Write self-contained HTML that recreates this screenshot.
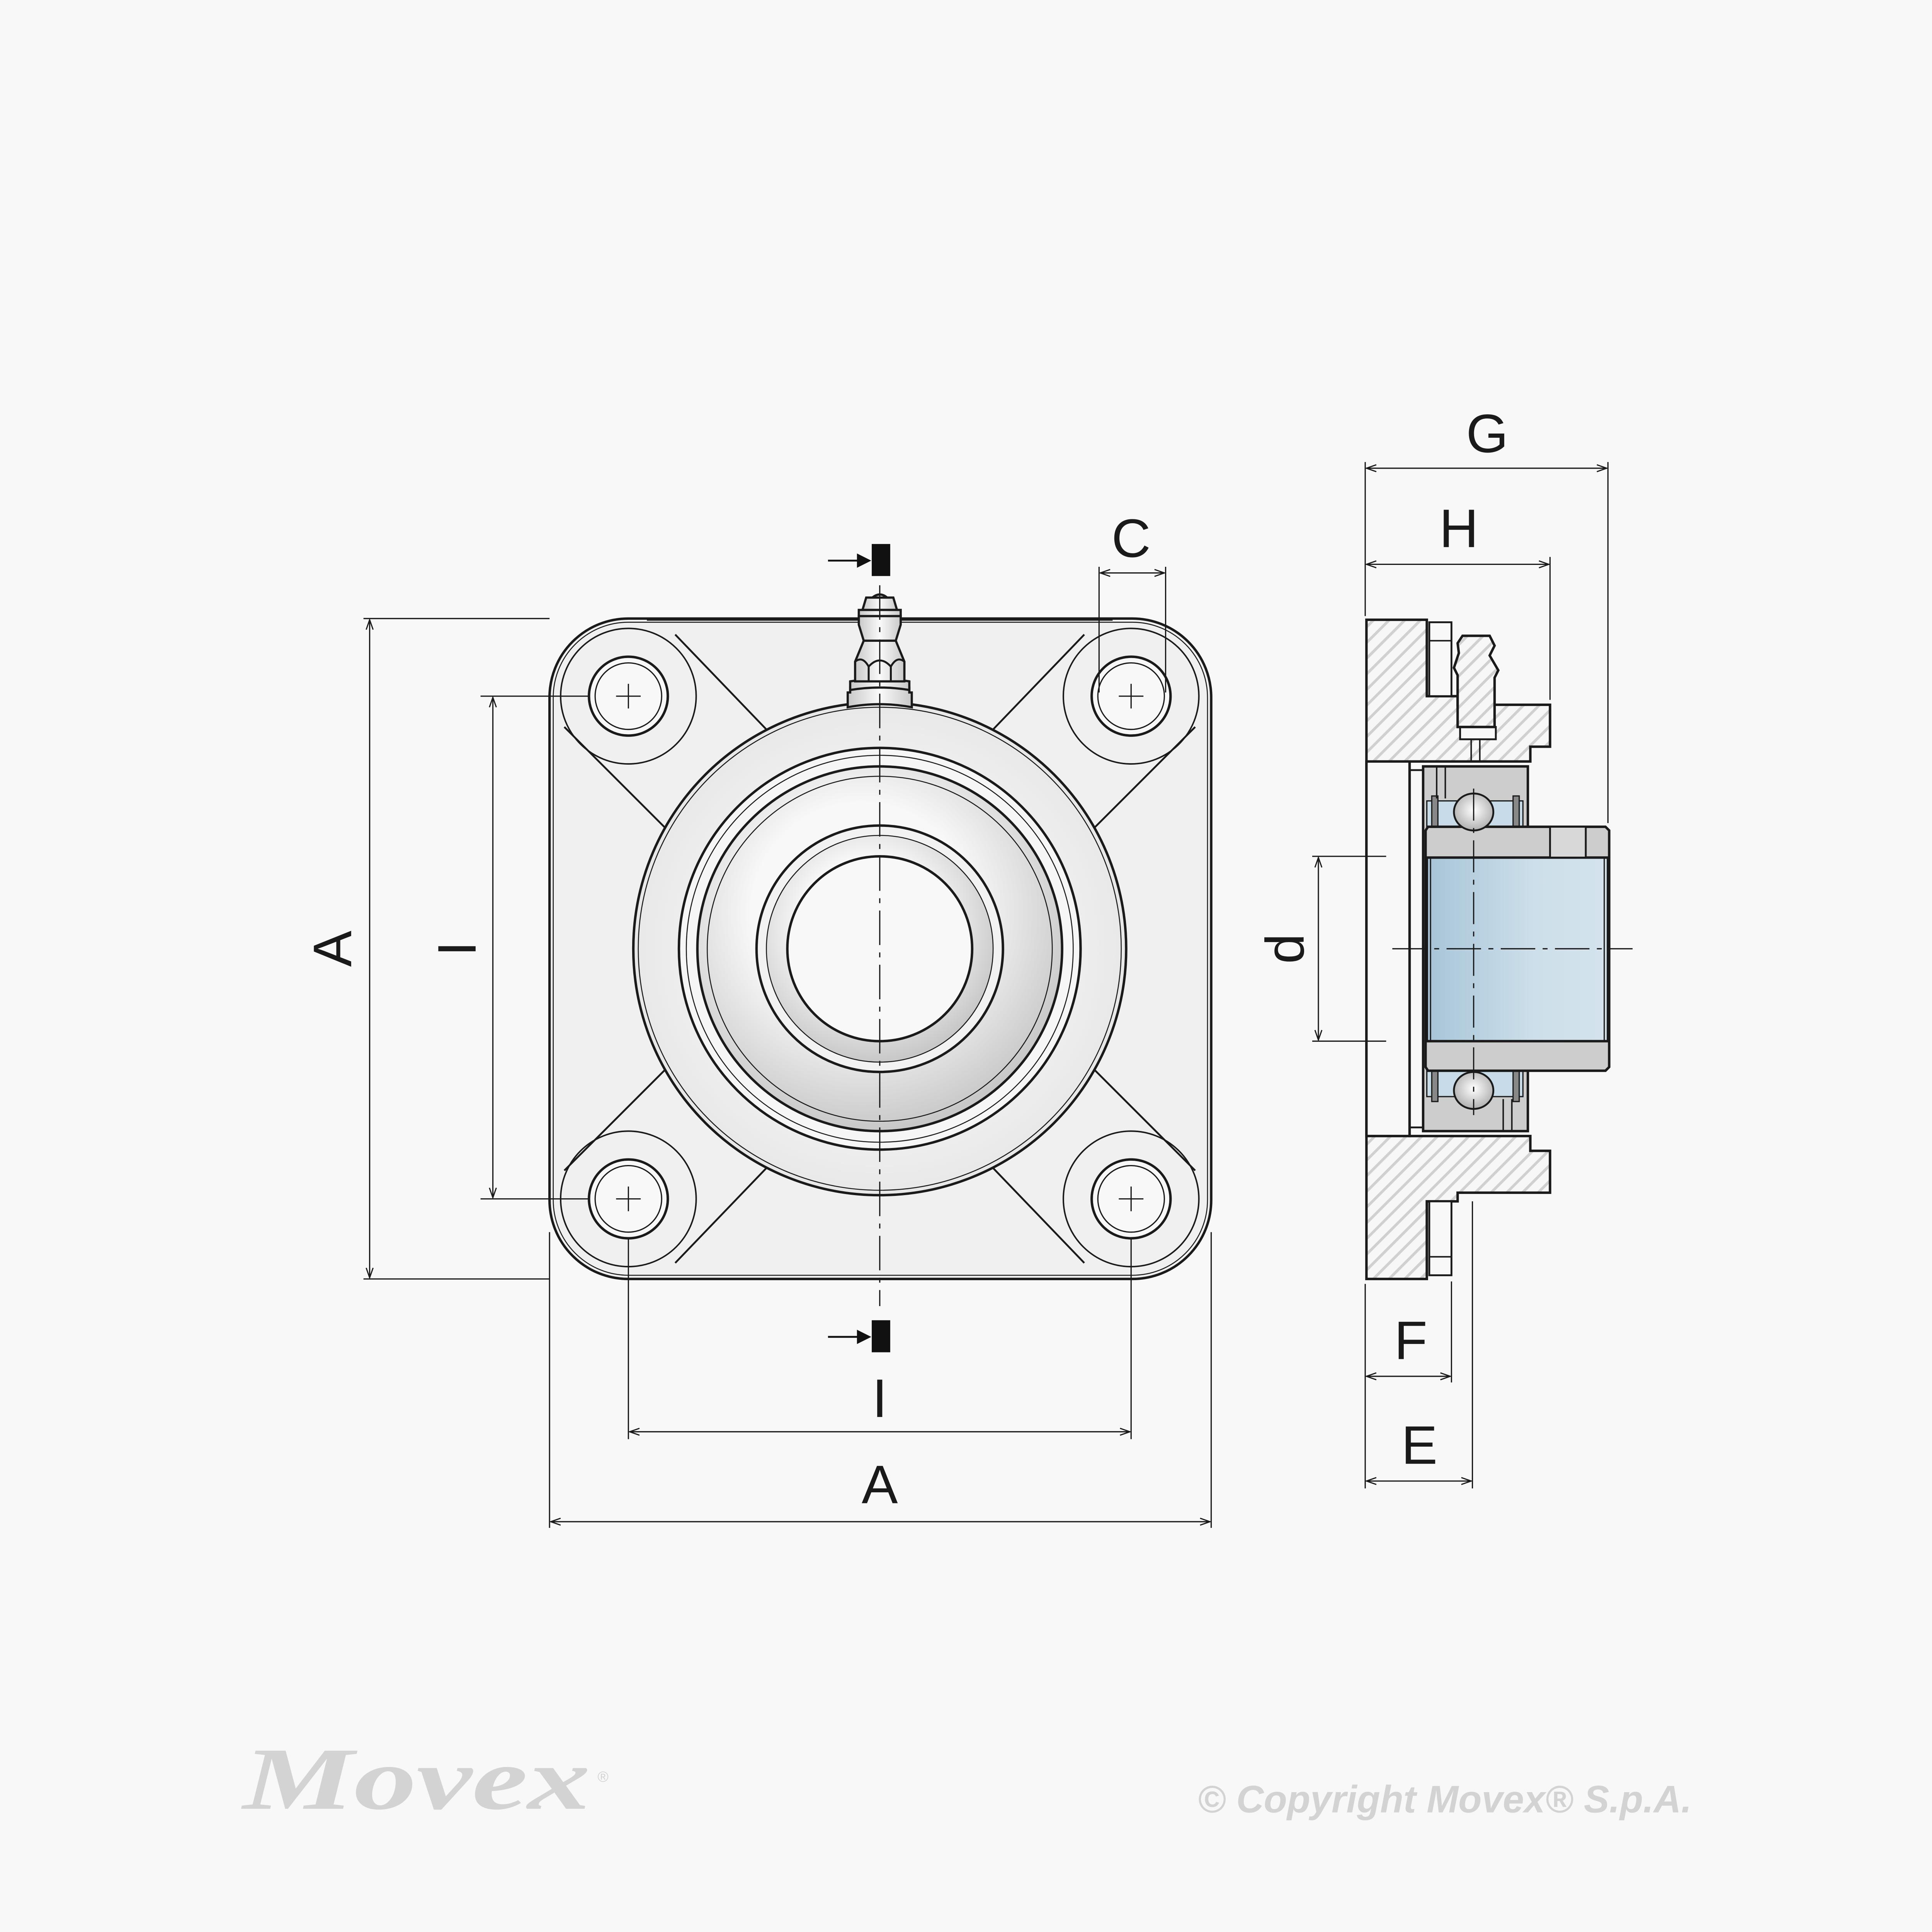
<!DOCTYPE html>
<html><head><meta charset="utf-8"><style>html,body{margin:0;padding:0;background:#f8f8f8;width:100%;height:100%;overflow:hidden}svg{display:block;width:100vw;height:100vh}</style></head><body>
<svg viewBox="0 0 1568 1568" preserveAspectRatio="xMidYMid meet" xmlns="http://www.w3.org/2000/svg" font-family="Liberation Sans, sans-serif">
<defs>
<marker id="ar" viewBox="0 0 10 10" refX="10" refY="5" markerWidth="14" markerHeight="8" markerUnits="userSpaceOnUse" orient="auto-start-reverse"><path d="M0,1.5 L10,5 L0,8.5" fill="none" stroke="#1a1a1a" stroke-width="1.2"/></marker>
<pattern id="hat" width="9" height="9" patternUnits="userSpaceOnUse" patternTransform="rotate(-45)"><rect width="9" height="9" fill="#f7f7f7"/><rect width="9" height="2.2" fill="#d0d0d0"/></pattern>
<radialGradient id="boss" cx="0.5" cy="0.5" r="0.5"><stop offset="0.6" stop-color="#f4f4f4"/><stop offset="1" stop-color="#e8e8e8"/></radialGradient>
<radialGradient id="ring" cx="0.45" cy="0.4" r="0.6"><stop offset="0.5" stop-color="#f8f8f8"/><stop offset="1" stop-color="#c8c8c8"/></radialGradient>
<linearGradient id="blue" x1="0" x2="1"><stop offset="0" stop-color="#a7c5d8"/><stop offset="0.6" stop-color="#cddfea"/><stop offset="1" stop-color="#d4e3ec"/></linearGradient>
<radialGradient id="ball" cx="0.5" cy="0.45" r="0.55"><stop offset="0" stop-color="#fff"/><stop offset="1" stop-color="#b0b0b0"/></radialGradient>
<linearGradient id="nip" x1="0" x2="1"><stop offset="0" stop-color="#c8c8c8"/><stop offset="0.5" stop-color="#fafafa"/><stop offset="1" stop-color="#c8c8c8"/></linearGradient>
</defs>
<rect width="1568" height="1568" fill="#f8f8f8"/>

<g stroke="#1a1a1a" fill="none">
<rect x="446" y="502" width="537" height="536" rx="64" fill="#f0f0f0" stroke-width="2"/>
<rect x="449" y="505" width="531" height="530" rx="61" stroke-width="0.8"/>
<g stroke-width="1.5">
<path d="M548,515 L622,592 M458,590 L540,672"/>
<path d="M880,515 L806,592 M970,590 L888,672"/>
<path d="M548,1025 L622,948 M458,950 L540,868"/>
<path d="M880,1025 L806,948 M970,950 L888,868"/>
<path d="M525,503 L903,503"/>
</g>
<g stroke-width="1.2">
<circle cx="510" cy="565" r="55"/><circle cx="918" cy="565" r="55"/>
<circle cx="510" cy="973" r="55"/><circle cx="918" cy="973" r="55"/>
</g>
<g stroke-width="2" fill="#f8f8f8">
<circle cx="510" cy="565" r="32"/><circle cx="918" cy="565" r="32"/>
<circle cx="510" cy="973" r="32"/><circle cx="918" cy="973" r="32"/>
</g>
<g stroke-width="1">
<circle cx="510" cy="565" r="27"/><circle cx="918" cy="565" r="27"/>
<circle cx="510" cy="973" r="27"/><circle cx="918" cy="973" r="27"/>
</g>
<circle cx="714" cy="770" r="200" fill="url(#boss)" stroke-width="2"/>
<circle cx="714" cy="770" r="196" stroke-width="0.8"/>
<circle cx="714" cy="770" r="163" fill="#f6f6f6" stroke-width="2"/>
<circle cx="714" cy="770" r="157" stroke-width="0.8"/>
<circle cx="714" cy="770" r="148" fill="url(#ring)" stroke-width="2"/>
<circle cx="714" cy="770" r="140" stroke-width="0.8"/>
<circle cx="714" cy="770" r="100" fill="#f2f2f2" stroke-width="2"/>
<circle cx="714" cy="770" r="92" fill="url(#ring)" stroke-width="0.8"/>
<circle cx="714" cy="770" r="75" fill="#f8f8f8" stroke-width="2"/>
<!-- grease nipple -->
<g fill="url(#nip)" stroke-width="1.8">
<path d="M688,574 L688,562 L690,562 L690,558 Q714,554 738,558 L738,562 L740,562 L740,574 Q714,569 688,574Z"/>
<path d="M690,560 Q714,556 738,560 L738,553 Q714,549 690,553Z"/>
<path d="M694,553 L694,537 L701,520 L727,520 L734,537 L734,553Z"/>
<path d="M701,520 L697,507 L697,500 L731,500 L731,507 L727,520Z"/>
<path d="M700,495 L703,485 L725,485 L728,495Z"/>
<path d="M697,500 L697,495 L731,495 L731,500Z"/>
<path d="M708,485 Q714,480 720,485Z"/>
</g>
<g stroke-width="1.6">
<path d="M694,537 Q700,532 705,541 Q714,531 723,541 Q728,532 734,537" fill="none"/>
<line x1="705" y1="541" x2="705" y2="553"/><line x1="723" y1="541" x2="723" y2="553"/>
</g>
<g stroke-width="1" stroke-dasharray="28,6,4,6">
<line x1="714" y1="475" x2="714" y2="1060"/>
</g>
<g stroke-width="1">
<line x1="500" y1="565" x2="520" y2="565"/><line x1="510" y1="555" x2="510" y2="575"/>
<line x1="908" y1="565" x2="928" y2="565"/><line x1="918" y1="555" x2="918" y2="575"/>
<line x1="500" y1="973" x2="520" y2="973"/><line x1="510" y1="963" x2="510" y2="983"/>
<line x1="908" y1="973" x2="928" y2="973"/><line x1="918" y1="963" x2="918" y2="983"/>
</g>
</g>
<g fill="#111" stroke="#111">
<line x1="672" y1="455" x2="704" y2="455" stroke-width="1.5"/><path d="M696,450 L706,455 L696,460Z"/>
<rect x="708" y="442" width="14" height="25"/>
<line x1="672" y1="1085" x2="704" y2="1085" stroke-width="1.5"/><path d="M696,1080 L706,1085 L696,1090Z"/>
<rect x="708" y="1072" width="14" height="25"/>
</g>

<g stroke="#1a1a1a" stroke-width="2">
<path d="M1109,503 L1158,503 L1158,565 L1183,565 L1183,572 L1258,572 L1258,606 L1242,606 L1242,618 L1144,618 L1144,922 L1242,922 L1242,934 L1258,934 L1258,968 L1183,968 L1183,975 L1158,975 L1158,1038 L1109,1038Z" fill="url(#hat)"/>
<rect x="1109" y="618" width="35" height="304" fill="#f8f8f8"/>
<path d="M1144,625 L1155,625 M1144,915 L1155,915" fill="none" stroke-width="1.5"/>
<path d="M1160,505 L1178,505 L1178,565 L1160,565Z M1160,975 L1178,975 L1178,1035 L1160,1035Z" fill="#f8f8f8" stroke-width="1.5"/>
<line x1="1160" y1="520" x2="1178" y2="520" stroke-width="1.2"/><line x1="1160" y1="1020" x2="1178" y2="1020" stroke-width="1.2"/>
<path d="M1185,600 L1185,590 L1214,590 L1214,600Z" fill="#f8f8f8" stroke-width="1.5"/>
<path d="M1183,590 L1183,548 L1180,542 L1184,530 L1183,522 L1187,516 L1209,516 L1213,524 L1209,532 L1216,544 L1213,550 L1213,590Z" fill="url(#hat)"/>
<line x1="1194" y1="600" x2="1194" y2="617" stroke-width="1.2"/><line x1="1201" y1="600" x2="1201" y2="617" stroke-width="1.2"/>
<path d="M1155,622 L1240,622 L1240,918 L1155,918Z" fill="#cdcdcd"/>
<rect x="1158" y="650" width="78" height="22" fill="#c7dbe8" stroke-width="1"/>
<rect x="1158" y="868" width="78" height="22" fill="#c7dbe8" stroke-width="1"/>
<rect x="1162" y="646" width="5" height="26" fill="#888" stroke-width="1"/>
<rect x="1228" y="646" width="5" height="26" fill="#888" stroke-width="1"/>
<rect x="1162" y="868" width="5" height="26" fill="#888" stroke-width="1"/>
<rect x="1228" y="868" width="5" height="26" fill="#888" stroke-width="1"/>
<line x1="1166" y1="622" x2="1166" y2="648" stroke-width="1.2"/><line x1="1173" y1="622" x2="1173" y2="648" stroke-width="1.2"/>
<line x1="1220" y1="892" x2="1220" y2="918" stroke-width="1.2"/><line x1="1227" y1="892" x2="1227" y2="918" stroke-width="1.2"/>
<path d="M1159,671 L1303,671 L1306,674 L1306,866 L1303,869 L1159,869 L1157,866 L1157,674Z" fill="#cdcdcd"/>
<rect x="1158" y="696" width="147" height="149" fill="url(#blue)"/>
<line x1="1161" y1="696" x2="1161" y2="845" stroke-width="1"/>
<line x1="1302" y1="696" x2="1302" y2="845" stroke-width="1"/>
<rect x="1258" y="671" width="29" height="25" fill="#d8d8d8" stroke-width="1.5"/>
<ellipse cx="1196" cy="659" rx="16" ry="15" fill="url(#ball)" stroke-width="1.5"/>
<ellipse cx="1196" cy="885" rx="16" ry="15" fill="url(#ball)" stroke-width="1.5"/>
</g>
<g stroke="#1a1a1a" stroke-width="1">
<line x1="1196" y1="640" x2="1196" y2="905" stroke-dasharray="26,6,4,6"/>
<line x1="1130" y1="770" x2="1325" y2="770" stroke-dasharray="28,6,4,6"/>
</g>

<g stroke="#1a1a1a" stroke-width="1" fill="none">
<line x1="295" y1="502" x2="446" y2="502"/><line x1="295" y1="1038" x2="446" y2="1038"/>
<line x1="390" y1="565" x2="478" y2="565"/><line x1="390" y1="973" x2="478" y2="973"/>
<line x1="892" y1="460" x2="892" y2="562"/><line x1="946" y1="460" x2="946" y2="562"/>
<line x1="510" y1="1005" x2="510" y2="1168"/><line x1="918" y1="1005" x2="918" y2="1168"/>
<line x1="446" y1="1000" x2="446" y2="1240"/><line x1="983" y1="1000" x2="983" y2="1240"/>
<line x1="1108" y1="375" x2="1108" y2="500"/><line x1="1305" y1="375" x2="1305" y2="668"/>
<line x1="1258" y1="452" x2="1258" y2="568"/>
<line x1="1108" y1="1042" x2="1108" y2="1208"/><line x1="1178" y1="1040" x2="1178" y2="1122"/><line x1="1195" y1="975" x2="1195" y2="1208"/>
<line x1="1065" y1="695" x2="1125" y2="695"/><line x1="1065" y1="845" x2="1125" y2="845"/>
<line x1="300" y1="503" x2="300" y2="1037" marker-start="url(#ar)" marker-end="url(#ar)"/>
<line x1="400" y1="566" x2="400" y2="972" marker-start="url(#ar)" marker-end="url(#ar)"/>
<line x1="893" y1="465" x2="945" y2="465" marker-start="url(#ar)" marker-end="url(#ar)"/>
<line x1="511" y1="1162" x2="917" y2="1162" marker-start="url(#ar)" marker-end="url(#ar)"/>
<line x1="447" y1="1235" x2="982" y2="1235" marker-start="url(#ar)" marker-end="url(#ar)"/>
<line x1="1109" y1="380" x2="1304" y2="380" marker-start="url(#ar)" marker-end="url(#ar)"/>
<line x1="1109" y1="458" x2="1257" y2="458" marker-start="url(#ar)" marker-end="url(#ar)"/>
<line x1="1070" y1="696" x2="1070" y2="844" marker-start="url(#ar)" marker-end="url(#ar)"/>
<line x1="1109" y1="1117" x2="1177" y2="1117" marker-start="url(#ar)" marker-end="url(#ar)"/>
<line x1="1109" y1="1202" x2="1194" y2="1202" marker-start="url(#ar)" marker-end="url(#ar)"/>
</g>
<g fill="#1a1a1a" font-size="44" text-anchor="middle">
<text x="1207" y="367">G</text>
<text x="1184" y="444">H</text>
<text x="918" y="452">C</text>
<text x="714" y="1150">I</text>
<text x="714" y="1220">A</text>
<text x="1145" y="1103">F</text>
<text x="1152" y="1188">E</text>
<text transform="translate(285,770) rotate(-90)">A</text>
<text transform="translate(386,770) rotate(-90)">I</text>
<text transform="translate(1058,770) rotate(-90)">d</text>
</g>
<text x="197" y="1468" font-family="Liberation Serif, serif" font-weight="bold" font-style="italic" font-size="72" fill="#d3d3d3" textLength="282" lengthAdjust="spacingAndGlyphs">Movex</text>
<text x="485" y="1446" font-size="12" fill="#d3d3d3">®</text>
<text x="972" y="1471" font-weight="bold" font-style="italic" font-size="31" fill="#d3d3d3" textLength="401" lengthAdjust="spacingAndGlyphs">© Copyright Movex® S.p.A.</text>
</svg>
</body></html>
